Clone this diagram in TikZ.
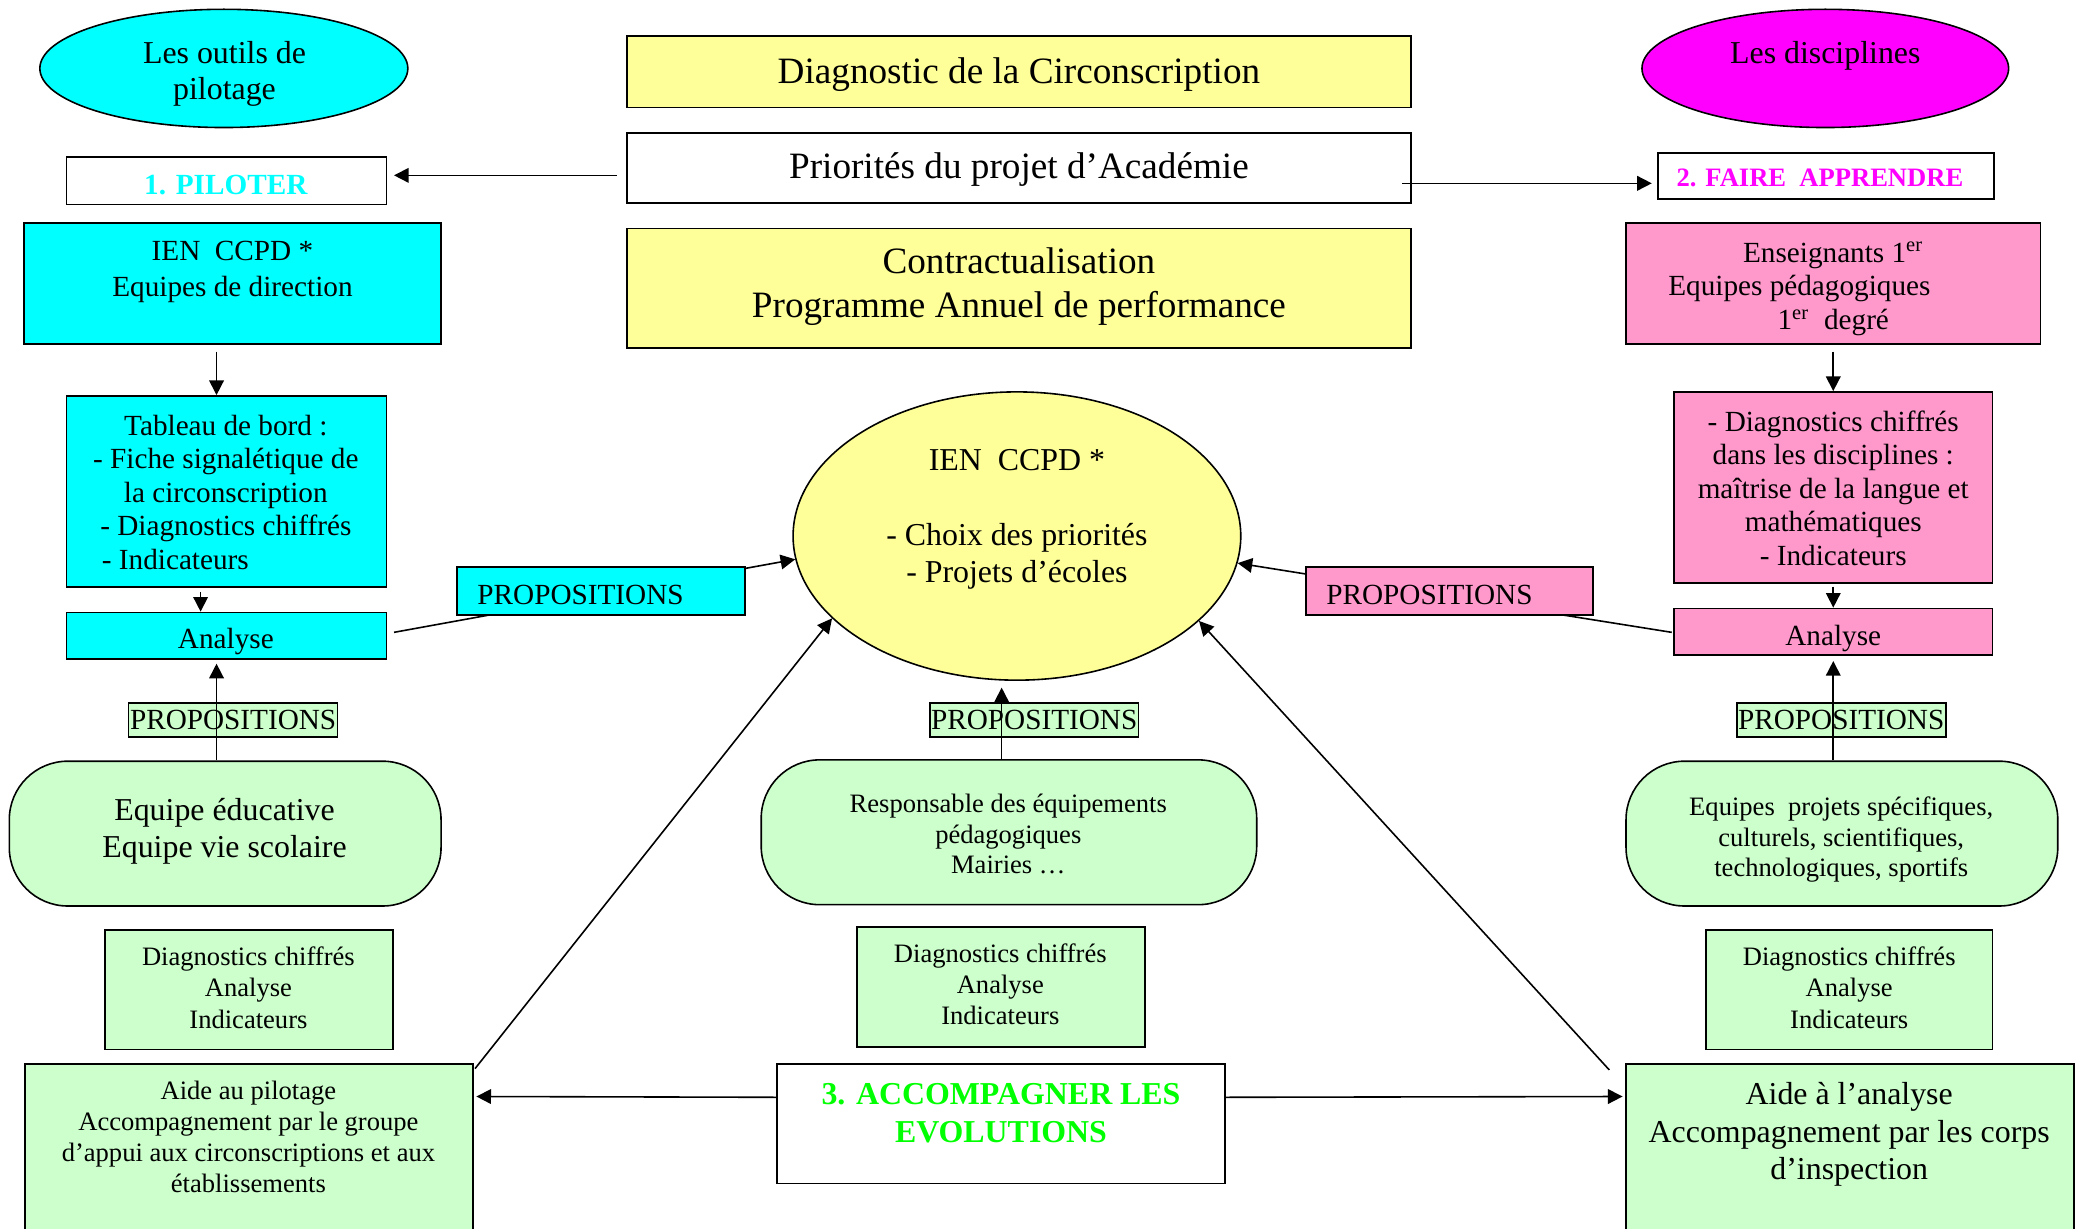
\documentclass[tikz,border=0pt]{standalone}
\usepackage{fontspec}
\setmainfont{Liberation Serif}
\usetikzlibrary{shapes.geometric,arrows.meta,fit,calc}
\definecolor{cyanF}{HTML}{00FFFF}
\definecolor{yelF}{HTML}{FFFF99}
\definecolor{magF}{HTML}{FF00FF}
\definecolor{pinkF}{HTML}{FF99CC}
\definecolor{grnF}{HTML}{CCFFCC}
\definecolor{grnT}{HTML}{00FF00}
\newcommand\fszA{\fontsize{14}{16.5}\selectfont}
\newcommand\fszB{\fontsize{12}{14}\selectfont}
\newcommand\fszC{\fontsize{11}{12.6}\selectfont}
\newcommand\fszD{\fontsize{10}{11.7}\selectfont}
\newcommand\fszE{\fontsize{11}{12}\selectfont}
\begin{document}
\begin{tikzpicture}[x=0.5pt,y=-0.5pt,
  box/.style={draw=black,line width=0.6pt,inner sep=0pt},
  txt/.style={inner sep=0pt,align=center},
  arr/.style={line width=0.6pt,-{Triangle[length=5.5pt,width=5.5pt]}},
  rbox/.style={box,fill=grnF,rounded corners=22pt},
  plab/.style={draw=black,line width=0.6pt,fill=grnF,inner xsep=0.5pt,inner ysep=0pt,minimum height=13pt,text height=7.3pt,text depth=0pt,font=\fszE},
]
\useasboundingbox (0,0) rectangle (1568,925);
\clip (0,0) rectangle (1568,925);
\fill[white] (0,0) rectangle (1568,925);

% top shapes
\node[box,ellipse,fill=cyanF,minimum width=138.5pt,minimum height=44.5pt] (outils) at (168.5,51.5) {};
\node[box,ellipse,fill=magF,minimum width=138pt,minimum height=44.5pt] (disc) at (1374,51.5) {};
\node[box,fill=yelF,fit={(472,27) (1062,81)}] (diag) {};
\node[box,fill=white,fit={(472,100) (1062,153)}] (prio) {};
\node[box,fill=yelF,fit={(472,172) (1062,262)}] (contr) {};
\node[box,fill=white,fit={(50,118) (291,154)}] (pil) {};
\node[box,fill=white,fit={(1248,115) (1501,150)}] (faire) {};

% left column
\node[box,fill=cyanF,fit={(18,168) (332,259)}] (ien) {};
\node[box,fill=cyanF,fit={(50,298) (291,442)}] (tab) {};
\node[box,fill=cyanF,fit={(50,461) (291,496)}] (an1) {};

% centre ellipse
\node[box,ellipse,fill=yelF,minimum width=168.5pt,minimum height=108.5pt] (ell) at (765.5,403.5) {};

% right column
\node[box,fill=pinkF,fit={(1224,168) (1536,259)}] (ens) {};
\node[box,fill=pinkF,fit={(1260,295) (1500,439)}] (pdiag) {};
\node[box,fill=pinkF,fit={(1260,458) (1500,493)}] (an2) {};

% lines running under the PROPOSITIONS boxes
\draw[arr] ($(an1.east)+(5,-2.5)$) -- (ell.186);
\draw[arr] ($(an2.west)+(-1,0.5)$) -- (ell.353);
\node[box,fill=cyanF,fit={(344,427) (561,463)}] (prop1) {};
\node[box,fill=pinkF,fit={(983,427) (1199,463)}] (prop2) {};

% rounded green shapes
\node[rbox,fit={(7,573) (332,682)}] (rb1) {};
\node[rbox,fit={(573,572) (946,681)}] (rbc) {};
\node[rbox,fit={(1224,573) (1549,682)}] (rbr) {};

% green PROPOSITIONS labels
\node[plab] (pl1) at (175.5,542) {PROPOSITIONS};
\node[plab] (pl2) at (778.5,542) {PROPOSITIONS};
\node[plab] (pl3) at (1386,542) {PROPOSITIONS};

% lower boxes
\node[box,fill=grnF,fit={(79,700) (296,790)}] (dg1) {};
\node[box,fill=grnF,fit={(645,698) (862,788)}] (dg2) {};
\node[box,fill=grnF,fit={(1284,700) (1500,790)}] (dg3) {};
\node[box,fill=grnF,fit={(19,801) (356,945)}] (ap) {};
\node[box,fill=white,fit={(585,801) (922,891)}] (acc) {};
\node[box,fill=grnF,fit={(1224,801) (1561,945)}] (ar) {};

% arrows
\draw[arr] ($(prio.west)+(-7,5.5)$) -- ($(pil.east)+(5,-4)$);
\draw[arr] ($(prio.east)+(-7,11.5)$) -- ($(faire.west)+(-4,5.5)$);
\draw[arr] ($(ien.south)+(-12,5)$) -- ($(tab.north)+(-7.5,0)$);
\draw[arr] ($(tab.south)+(-19.5,3)$) -- ($(an1.north)+(-19.5,0)$);
\draw[arr] ($(ens.south)+(0,5)$) -- (pdiag.north);
\draw[arr] ($(pdiag.south)+(0,2)$) -- (an2.north);
\draw[arr] ($(rb1.north)+(-6.5,0)$) -- ($(an1.south)+(-7.5,3)$);
\draw[arr] ($(rbc.north)+(-5.5,0)$) -- ($(ell.south)+(-11.5,5)$);
\draw[arr] ($(rbr.north)+(-6.5,0)$) -- ($(an2.south)+(0,4)$);
\draw[arr] ($(ap.north east)+(1,4)$) -- (ell.204);
\draw[arr] ($(ar.north west)+(-12,5)$) -- (ell.335);
\draw[arr] ($(acc.west)+(0,-20)$) -- ($(ap.north east)+(2,25)$);
\draw[arr] ($(acc.east)+(0,-20)$) -- ($(ar.north west)+(-2,25)$);

% texts
\node[txt,font=\fontsize{12}{13.5}\selectfont] (t-outils) at (169,55.5) {Les outils de\\pilotage};
\node[txt,font=\fszB] (t-disc) at (1374,42) {Les disciplines};
\node[txt,font=\fszA] (t-diag) at (767,56) {Diagnostic de la Circonscription};
\node[txt,font=\fszA] (t-prio) at (767,127.5) {Priorités du projet d’Académie};
\node[txt,font=\fszA] (t-contr) at (767,216) {Contractualisation\\Programme Annuel de performance};
\node[txt,font=\fontsize{11}{12.6}\selectfont\bfseries,text=cyanF] (t-pil) at (170,139) {1. PILOTER};
\node[txt,font=\fontsize{10}{12}\selectfont\bfseries,text=magF] (t-faire) at (1370,134) {2. FAIRE~~APPRENDRE};
\node[txt,font=\fontsize{11}{13.5}\selectfont] (t-ien) at (175,204.5) {IEN~~CCPD *\\Equipes de direction};
\node[txt,font=\fszC] (t-tab) at (170,370.5) {Tableau de bord :\\- Fiche signalétique de\\la circonscription\\- Diagnostics chiffrés\\- Indicateurs\hspace*{38pt}};
\node[txt,font=\fszC] (t-an1) at (170,483) {Analyse};
\node[txt,font=\fszE,anchor=west] (t-prop1) at (359,448) {PROPOSITIONS};
\node[txt,font=\fszE,anchor=west] (t-prop2) at (998,448) {PROPOSITIONS};
\node[txt,font=\fszB] (t-ell) at (765.5,391) {IEN~~CCPD *\\[14pt]- Choix des priorités\\- Projets d’écoles};
\node[txt,font=\fontsize{11}{12.75}\selectfont] (t-ens) at (1380,217.5) {Enseignants 1\textsuperscript{er}\\\makebox[0pt][c]{\hspace*{-25.5pt}Equipes pédagogiques}\\1\textsuperscript{er}~~degré};
\node[txt,font=\fszC] (t-pdiag) at (1380,367.5) {- Diagnostics chiffrés\\dans les disciplines :\\maîtrise de la langue et\\mathématiques\\- Indicateurs};
\node[txt,font=\fszC] (t-an2) at (1380,481) {Analyse};
\node[txt,font=\fszB] (t-rb1) at (169,626) {Equipe éducative\\Equipe vie scolaire};
\node[txt,font=\fontsize{10}{11.5}\selectfont] (t-rbc) at (759,628) {Responsable des équipements\\pédagogiques\\Mairies …};
\node[txt,font=\fontsize{10}{11.5}\selectfont] (t-rbr) at (1386,632) {Equipes~~projets spécifiques,\\culturels, scientifiques,\\technologiques, sportifs};
\node[txt,font=\fontsize{10}{11.75}\selectfont] (t-dg1) at (187,743.5) {Diagnostics chiffrés\\Analyse\\Indicateurs};
\node[txt,font=\fontsize{10}{11.75}\selectfont] (t-dg2) at (753,741) {Diagnostics chiffrés\\Analyse\\Indicateurs};
\node[txt,font=\fontsize{10}{11.75}\selectfont] (t-dg3) at (1392,743.5) {Diagnostics chiffrés\\Analyse\\Indicateurs};
\node[txt,font=\fszD] (t-ap) at (187,856) {Aide au pilotage\\Accompagnement par le groupe\\d’appui aux circonscriptions et aux\\établissements};
\node[txt,font=\fszB\bfseries,text=grnT] (t-acc) at (753.5,838) {3. ACCOMPAGNER LES\\EVOLUTIONS};
\node[txt,font=\fszB] (t-ar) at (1392,854) {Aide à l’analyse\\Accompagnement par les corps\\d’inspection};
\end{tikzpicture}
\end{document}
